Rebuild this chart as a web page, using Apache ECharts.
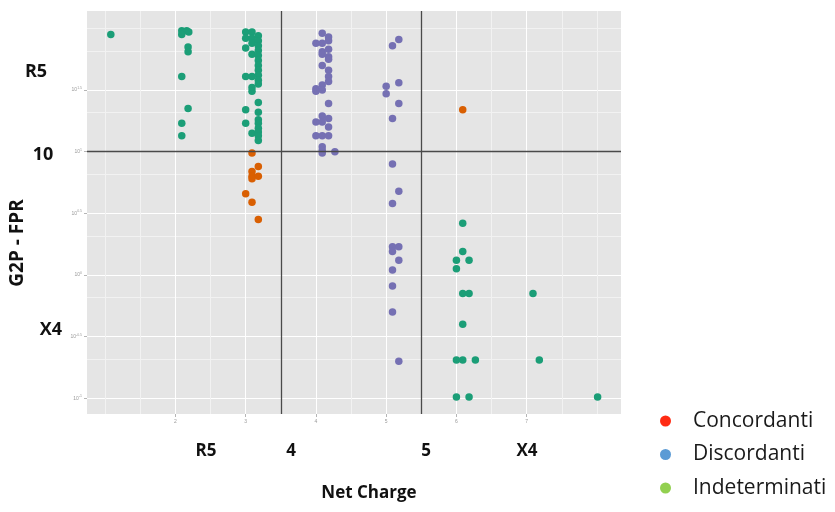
<!DOCTYPE html>
<html><head><meta charset="utf-8">
<script src="https://cdn.jsdelivr.net/npm/echarts@6/dist/echarts.min.js"></script>
<style>html,body{margin:0;padding:0;background:#fff}#c{width:835px;height:512px}</style>
</head><body><div id="c"></div>
<script>
// x = Net Charge (jittered), y = log10(G2P - FPR)
const concordanti = [
  [3.09,0.99],[3.18,0.88],[3.09,0.84],[3.09,0.80],[3.18,0.80],[3.09,0.78],
  [3.00,0.66],[3.09,0.59],[3.18,0.45],[6.09,1.34]
];
const discordanti = [
  [4.09,1.96],[4.18,1.93],[4.18,1.90],[4.00,1.88],[4.09,1.88],[4.09,1.81],[4.18,1.83],
  [4.09,1.79],[4.18,1.77],[4.18,1.75],[4.09,1.70],[4.18,1.66],[4.18,1.61],[4.18,1.57],
  [4.09,1.54],[4.00,1.51],[4.00,1.49],[4.09,1.50],[4.18,1.39],[4.09,1.29],[4.00,1.24],
  [4.09,1.24],[4.18,1.27],[4.18,1.20],[4.00,1.13],[4.09,1.13],[4.18,1.13],[4.09,1.04],
  [4.09,1.01],[4.09,0.99],[4.27,1.00],
  [5.18,1.91],[5.09,1.86],[5.00,1.53],[5.18,1.56],[5.00,1.47],[5.18,1.39],[5.09,1.27],
  [5.09,0.90],[5.18,0.68],[5.09,0.58],[5.09,0.23],[5.18,0.23],[5.09,0.19],[5.18,0.12],
  [5.09,0.04],[5.09,-0.09],[5.09,-0.30],[5.18,-0.70]
];
const indeterminati = [
  [1.08,1.95],
  [2.09,1.98],[2.16,1.98],[2.19,1.97],[2.09,1.95],[2.18,1.85],[2.18,1.81],[2.09,1.61],
  [2.18,1.35],[2.09,1.23],[2.09,1.13],
  [3.00,1.97],[3.00,1.92],[3.00,1.84],[3.00,1.61],[3.00,1.34],[3.00,1.23],
  [3.09,1.97],[3.09,1.92],[3.09,1.88],[3.09,1.79],[3.09,1.61],[3.09,1.52],[3.09,1.49],[3.09,1.15],
  [3.18,1.94],[3.18,1.90],[3.18,1.86],[3.18,1.82],[3.18,1.78],[3.18,1.74],[3.18,1.70],[3.18,1.66],
  [3.18,1.62],[3.18,1.58],[3.18,1.55],[3.18,1.40],[3.18,1.32],[3.18,1.26],[3.18,1.23],[3.18,1.19],
  [3.18,1.16],[3.18,1.13],[3.18,1.09],
  [6.09,0.42],[6.09,0.19],[6.00,0.12],[6.18,0.12],[6.00,0.05],[6.09,-0.15],[6.18,-0.15],[7.09,-0.15],
  [6.09,-0.40],[6.00,-0.69],[6.09,-0.69],[6.27,-0.69],[7.18,-0.69],[6.00,-0.99],[6.18,-0.99],[8.01,-0.99]
];
const seriesNames = ['Concordanti','Discordanti','Indeterminati'];
const seriesColors = ['#d95f02','#7570b3','#1b9e77'];
const legendColors = ['#ff2b13','#5b9bd5','#92d050'];
const xBreaks = [2,3,4,5,6,7];
const xMinorBreaks = [1,1.5,2.5,3.5,4.5,5.5,6.5,7.5,8];
const yBreaks = [-1,-0.5,0,0.5,1,1.5];
const yMinorBreaks = [-0.682,-0.182,0.318,0.818,1.318,1.818,2];
const xRefLines = [3.5,5.5];
const yRefLines = [1];
const xLimits = [0.741, 8.343];
const yLimits = [-1.127, 2.141];

const xGrid = xBreaks.concat(xMinorBreaks).sort((a,b)=>a-b);
const yGrid = yBreaks.concat(yMinorBreaks).sort((a,b)=>a-b);
const gridColor = (vals, majors) => vals.map(v => majors.indexOf(v) >= 0 ? '#ffffff' : '#f2f2f2');

const chart = echarts.init(document.getElementById('c'));
const tickLbl = {color:'#9a9a9a', fontSize:5, fontFamily:'Liberation Sans'};
const bigFont = 'bold 18px "Open Sans"';
const bigFontX = 'bold 17px "Open Sans"';

chart.setOption({
  animation:false,
  backgroundColor:'#ffffff',
  grid:{left:87, top:11, width:534, height:403, show:true, backgroundColor:'#e5e5e5', borderWidth:0},
  xAxis:[
    {type:'value', min:xLimits[0], max:xLimits[1], position:'bottom',
     axisLine:{show:false, onZero:false},
     axisTick:{show:true, customValues:xBreaks, length:3, lineStyle:{color:'#b5b5b5', width:1}},
     axisLabel:{customValues:xBreaks, margin:5, ...tickLbl},
     splitLine:{show:false}},
    {type:'value', min:xLimits[0], max:xLimits[1], position:'bottom',
     axisLine:{show:false, onZero:false},
     axisTick:{show:false, customValues:xGrid},
     axisLabel:{show:false},
     splitLine:{show:true, lineStyle:{color:gridColor(xGrid,xBreaks), width:1}}}
  ],
  yAxis:[
    {type:'value', min:yLimits[0], max:yLimits[1], position:'left',
     axisLine:{show:false, onZero:false},
     axisTick:{show:true, customValues:yBreaks, length:3, lineStyle:{color:'#b5b5b5', width:1}},
     axisLabel:{customValues:yBreaks, margin:5,
       formatter: v => '{b|10}{s|' + v + '}',
       rich:{b:{...tickLbl}, s:{...tickLbl, fontSize:3.5, padding:[0,0,4,0]}}},
     splitLine:{show:false}},
    {type:'value', min:yLimits[0], max:yLimits[1], position:'left',
     axisLine:{show:false, onZero:false},
     axisTick:{show:false, customValues:yGrid},
     axisLabel:{show:false},
     splitLine:{show:true, lineStyle:{color:gridColor(yGrid,yBreaks), width:1}}}
  ],
  legend:{
    orient:'vertical', left:655, top:405, icon:'circle', itemWidth:11, itemHeight:11, itemGap:11.5,
    selectedMode:false,
    textStyle:{fontFamily:'Open Sans', fontSize:21, color:'#1a1a1a', lineHeight:22, padding:[0,0,0,17]},
    data: seriesNames.map((n,i)=>({name:n, itemStyle:{color:legendColors[i]}}))
  },
  series:[
    {type:'scatter', name:'refLines', data:[], z:1, silent:true,
     markLine:{silent:true, symbol:'none', animation:false, label:{show:false},
       lineStyle:{color:'#4a4a4a', width:1.3, type:'solid'},
       data: xRefLines.map(v=>({xAxis:v})).concat(yRefLines.map(v=>({yAxis:v})))}},
    {type:'scatter', name:seriesNames[0], data:concordanti, symbolSize:7.5, z:3, itemStyle:{color:seriesColors[0], opacity:1}},
    {type:'scatter', name:seriesNames[1], data:discordanti, symbolSize:7.5, z:3, itemStyle:{color:seriesColors[1], opacity:1}},
    {type:'scatter', name:seriesNames[2], data:indeterminati, symbolSize:7.5, z:3, itemStyle:{color:seriesColors[2], opacity:1}}
  ],
  graphic:[
    {type:'text', x:36, y:72, style:{text:'R5', font:bigFont, fill:'#111', align:'center', verticalAlign:'middle'}},
    {type:'text', x:43, y:155, style:{text:'10', font:bigFont, fill:'#111', align:'center', verticalAlign:'middle'}},
    {type:'text', x:51, y:330, style:{text:'X4', font:bigFont, fill:'#111', align:'center', verticalAlign:'middle'}},
    {type:'text', x:18, y:243, rotation:Math.PI/2, style:{text:'G2P - FPR', font:'bold 19px "Open Sans"', fill:'#111', align:'center', verticalAlign:'middle'}},
    {type:'text', x:206, y:451, style:{text:'R5', font:bigFontX, fill:'#111', align:'center', verticalAlign:'middle'}},
    {type:'text', x:291, y:451, style:{text:'4', font:bigFontX, fill:'#111', align:'center', verticalAlign:'middle'}},
    {type:'text', x:426, y:451, style:{text:'5', font:bigFontX, fill:'#111', align:'center', verticalAlign:'middle'}},
    {type:'text', x:527, y:451, style:{text:'X4', font:bigFontX, fill:'#111', align:'center', verticalAlign:'middle'}},
    {type:'text', x:369, y:493, style:{text:'Net Charge', font:bigFontX, fill:'#111', align:'center', verticalAlign:'middle'}}
  ]
});
</script></body></html>
